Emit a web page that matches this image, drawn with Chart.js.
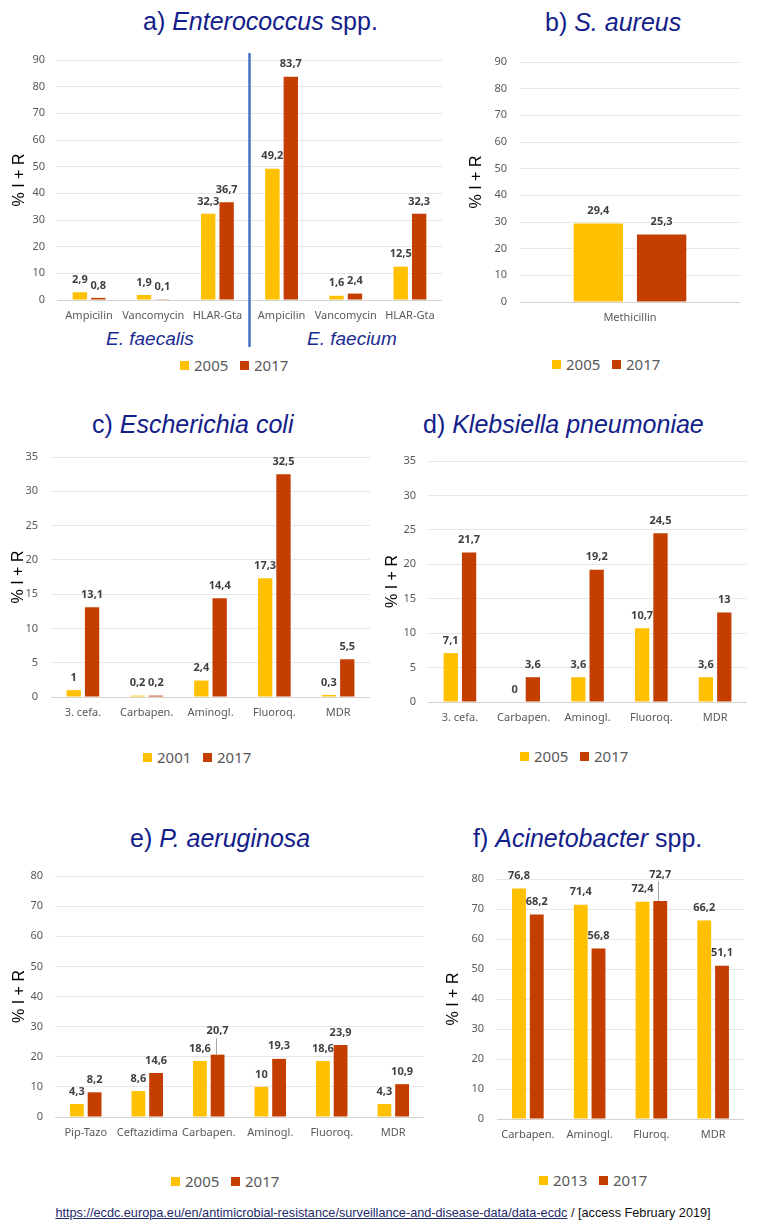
<!DOCTYPE html>
<html><head><meta charset="utf-8">
<script src="https://cdn.jsdelivr.net/npm/chart.js@4"></script>
<style>
html,body{margin:0;padding:0;background:#fff;}
#wrap{position:relative;width:761px;height:1232px;overflow:hidden;background:#fff;}
canvas{position:absolute;}
.title{position:absolute;font-family:"Liberation Sans",Arial,sans-serif;font-size:25px;line-height:1;color:#13208A;white-space:nowrap;}
.grp{position:absolute;font-family:"Liberation Sans",Arial,sans-serif;font-size:19px;line-height:1;color:#1A2C92;font-style:italic;white-space:nowrap;}
.legend{position:absolute;height:20px;display:flex;align-items:center;font-family:"Noto Sans",sans-serif;font-size:15px;color:#595959;white-space:nowrap;}
.legend .it{display:flex;align-items:center;width:60px;}
.legend .sw{width:9px;height:9px;margin-right:5px;}
.foot{position:absolute;left:0;width:766px;top:1205px;text-align:center;font-family:"Liberation Sans",Arial,sans-serif;font-size:12.7px;line-height:16px;color:#111;white-space:nowrap;}
.foot .lnk{color:#1f2a6a;text-decoration:underline;}
</style></head>
<body><div id="wrap">
<div class="title" style="left:143px;top:9px">a) <i>Enterococcus</i> spp.</div>
<div class="title" style="left:545px;top:10px">b) <i>S. aureus</i></div>
<div class="title" style="left:92px;top:412px">c) <i>Escherichia coli</i></div>
<div class="title" style="left:423px;top:412px">d) <i>Klebsiella pneumoniae</i></div>
<div class="title" style="left:130px;top:826px">e) <i>P. aeruginosa</i></div>
<div class="title" style="left:473px;top:826px">f) <i>Acinetobacter</i> spp.</div>
<div class="grp" style="left:106px;top:329px">E. faecalis</div>
<div class="grp" style="left:307px;top:329px">E. faecium</div>
<canvas id="ca"></canvas><canvas id="cb"></canvas><canvas id="cc"></canvas>
<canvas id="cd"></canvas><canvas id="ce"></canvas><canvas id="cf"></canvas>
<div class="legend" id="la" style="left:180px;top:355px"></div>
<div class="legend" id="lb" style="left:552px;top:354px"></div>
<div class="legend" id="lc" style="left:143px;top:747px"></div>
<div class="legend" id="ld" style="left:520px;top:746px"></div>
<div class="legend" id="le" style="left:171px;top:1171px"></div>
<div class="legend" id="lf" style="left:539px;top:1170px"></div>
<div class="foot"><span class="lnk">https://ecdc.europa.eu/en/antimicrobial-resistance/surveillance-and-disease-data/data-ecdc</span> / [access February 2019]</div>
</div>
<script>
// ---- data ----
const catsA = ['Ampicilin','Vancomycin','HLAR-Gta','Ampicilin','Vancomycin','HLAR-Gta'];
const yearsA = ['2005','2017'];
const a2005 = [2.9, 1.9, 32.3, 49.2, 1.6, 12.5];
const a2017 = [0.8, 0.1, 36.7, 83.7, 2.4, 32.3];

const catsB = ['Methicillin'];
const yearsB = ['2005','2017'];
const b2005 = [29.4];
const b2017 = [25.3];

const catsC = ['3. cefa.','Carbapen.','Aminogl.','Fluoroq.','MDR'];
const yearsC = ['2001','2017'];
const c2001 = [1, 0.2, 2.4, 17.3, 0.3];
const c2017 = [13.1, 0.2, 14.4, 32.5, 5.5];

const catsD = ['3. cefa.','Carbapen.','Aminogl.','Fluoroq.','MDR'];
const yearsD = ['2005','2017'];
const d2005 = [7.1, 0, 3.6, 10.7, 3.6];
const d2017 = [21.7, 3.6, 19.2, 24.5, 13];

const catsE = ['Pip-Tazo','Ceftazidima','Carbapen.','Aminogl.','Fluoroq.','MDR'];
const yearsE = ['2005','2017'];
const e2005 = [4.3, 8.6, 18.6, 10, 18.6, 4.3];
const e2017 = [8.2, 14.6, 20.7, 19.3, 23.9, 10.9];

const catsF = ['Carbapen.','Aminogl.','Fluroq.','MDR'];
const yearsF = ['2013','2017'];
const f2013 = [76.8, 71.4, 72.4, 66.2];
const f2017 = [68.2, 56.8, 72.7, 51.1];

const yTitle = '% I + R';
// ---- styling ----
const COLORS = ['#FFC000', '#C43E00'];
const fmt = v => String(v).replace('.', ',');

const valueLabels = {
  id: 'valueLabels',
  afterDatasetsDraw(chart, args, opts) {
    const ctx = chart.ctx;
    ctx.save();
    ctx.font = 'bold 11px "Noto Sans", sans-serif';
    ctx.textAlign = 'center';
    ctx.textBaseline = 'middle';
    chart.data.datasets.forEach((ds, di) => {
      chart.getDatasetMeta(di).data.forEach((bar, i) => {
        let y = bar.y - 12.5;
        const lift = (opts.lifts || []).find(l => l.d === di && l.i === i);
        if (lift) {
          y -= lift.dy;
          ctx.strokeStyle = '#A6A6A6';
          ctx.lineWidth = 1;
          ctx.beginPath();
          ctx.moveTo(Math.round(bar.x - 2) + 0.5, y + 7);
          ctx.lineTo(Math.round(bar.x - 2) + 0.5, bar.y);
          ctx.stroke();
        }
        ctx.fillStyle = '#404040';
        ctx.fillText(fmt(ds.data[i]), bar.x, y);
      });
    });
    ctx.restore();
  }
};

const separator = {
  id: 'separator',
  afterDraw(chart) {
    const x = chart.scales.x, ca = chart.chartArea, ctx = chart.ctx;
    const px = (x.getPixelForValue(2) + x.getPixelForValue(3)) / 2;
    ctx.save();
    ctx.strokeStyle = '#4472C4';
    ctx.lineWidth = 2.5;
    ctx.beginPath();
    ctx.moveTo(px, ca.top - 7);
    ctx.lineTo(px, ca.bottom + 47);
    ctx.stroke();
    ctx.restore();
  }
};

function makeLegend(id, years) {
  const el = document.getElementById(id);
  el.innerHTML = years.map((y, i) =>
    '<div class="it"><div class="sw" style="background:' + COLORS[i] + '"></div><span>' + y + '</span></div>').join('');
}

function makePanel(id, o) {
  const cv = document.getElementById(id);
  const w = o.R + o.padR - o.cx, h = o.B + 30 + o.padB - o.cy;
  cv.width = w; cv.height = h;
  cv.style.left = o.cx + 'px'; cv.style.top = o.cy + 'px';
  cv.style.width = w + 'px'; cv.style.height = h + 'px';
  const plugins = [valueLabels];
  if (o.sep) plugins.push(separator);
  new Chart(cv, {
    type: 'bar',
    data: {
      labels: o.labels,
      datasets: [
        {label: o.years[0], data: o.s1, backgroundColor: COLORS[0]},
        {label: o.years[1], data: o.s2, backgroundColor: COLORS[1]}
      ]
    },
    options: {
      responsive: false, animation: false, devicePixelRatio: 1,
      layout: {padding: {top: o.T - o.cy, right: o.padR, bottom: o.padB, left: 0}},
      datasets: {bar: {categoryPercentage: 0.575, barPercentage: 0.78}},
      plugins: {legend: {display: false}, tooltip: {enabled: false}, valueLabels: {lifts: o.lifts || []}},
      scales: {
        x: {
          grid: {display: false, drawTicks: false}, border: {display: false},
          ticks: {font: {family: '"Noto Sans", sans-serif', size: 11}, color: '#595959', padding: 9, maxRotation: 0, autoSkip: false},
          afterFit: s => { s.height = 30; }
        },
        y: {
          min: 0, max: o.max,
          ticks: {stepSize: o.step, padding: o.tickPad, font: {family: '"Noto Sans", sans-serif', size: 11}, color: '#595959'},
          grid: {color: c => (c.tick && c.tick.value === 0) ? '#D4D4D4' : '#E6E6E6', drawTicks: false, lineWidth: 1},
          border: {display: false},
          title: {display: true, text: yTitle, font: {family: '"Liberation Sans", Arial, sans-serif', size: 16}, color: '#000', padding: {top: 4, bottom: 4}},
          afterFit: s => { s.width = o.L - o.cx; }
        }
      }
    },
    plugins
  });
}

makePanel('ca', {labels: catsA, years: yearsA, s1: a2005, s2: a2017, max: 90, step: 10,
  cx: 6, cy: 40, L: 57, R: 442, T: 60, B: 300, padR: 15, padB: 22, tickPad: 12, sep: true});
makePanel('cb', {labels: catsB, years: yearsB, s1: b2005, s2: b2017, max: 90, step: 10,
  cx: 463, cy: 42, L: 520, R: 740, T: 62, B: 302, padR: 15, padB: 0, tickPad: 13});
makePanel('cc', {labels: catsC, years: yearsC, s1: c2001, s2: c2017, max: 35, step: 5,
  cx: 5, cy: 437, L: 51, R: 370, T: 457, B: 697, padR: 5, padB: 0, tickPad: 13});
makePanel('cd', {labels: catsD, years: yearsD, s1: d2005, s2: d2017, max: 35, step: 5,
  cx: 379, cy: 441, L: 428, R: 747, T: 461, B: 702, padR: 10, padB: 0, tickPad: 12});
makePanel('ce', {labels: catsE, years: yearsE, s1: e2005, s2: e2017, max: 80, step: 10,
  cx: 6, cy: 856, L: 55, R: 424, T: 876, B: 1117, padR: 10, padB: 0, tickPad: 12,
  lifts: [{d: 1, i: 2, dy: 11}]});
makePanel('cf', {labels: catsF, years: yearsF, s1: f2013, s2: f2017, max: 80, step: 10,
  cx: 440, cy: 859, L: 497, R: 744, T: 879, B: 1119, padR: 12, padB: 0, tickPad: 13,
  lifts: [{d: 1, i: 2, dy: 14}]});

makeLegend('la', yearsA); makeLegend('lb', yearsB); makeLegend('lc', yearsC);
makeLegend('ld', yearsD); makeLegend('le', yearsE); makeLegend('lf', yearsF);
</script>
</body></html>
